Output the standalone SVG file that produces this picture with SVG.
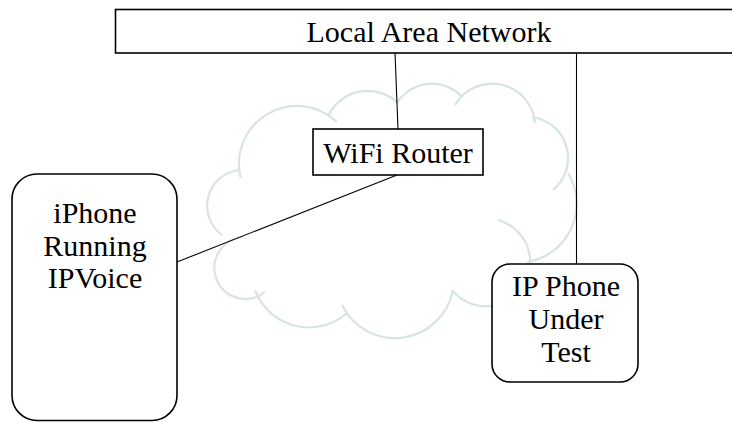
<svg xmlns="http://www.w3.org/2000/svg" width="732" height="422" viewBox="0 0 732 422">
<style>
.box{fill:#fff;stroke:#000;stroke-width:1.6}
.lbl{font-family:"Liberation Serif","Times New Roman",serif;font-size:30px;fill:#000;text-anchor:middle}
.cloud{fill:none;stroke:#d8e4e4;stroke-width:2.2}
.conn{stroke:#000;stroke-width:1.1;fill:none}
</style>
<rect width="732" height="422" fill="#fff"/>
<g id="cloud">
<path class="cloud" d="M240.7,178 A58,58 0 0 1 337,122"/>
<path class="cloud" d="M328,116 A44,44 0 0 1 398,103"/>
<path class="cloud" d="M397,103 A41,41 0 0 1 462,97"/>
<path class="cloud" d="M455,105 A43,43 0 0 1 535,123"/>
<path class="cloud" d="M532,117 A41.4,41.4 0 0 1 553,190"/>
<path class="cloud" d="M568,173 A59,59 0 0 1 527,262"/>
<path class="cloud" d="M498,220 A44,44 0 1 1 452,290"/>
<path class="cloud" d="M453,290 A59,59 0 0 1 342,305"/>
<path class="cloud" d="M347,313 A57.5,57.5 0 0 1 255,290"/>
<path class="cloud" d="M265,292 A31,31 0 1 1 244,237"/>
<path class="cloud" d="M222,235 A36,36 0 0 1 240,170"/>
</g>
<g id="connectors">
<line class="conn" x1="395" y1="53" x2="398" y2="129"/>
<line class="conn" x1="576.5" y1="53" x2="576.5" y2="264"/>
<line class="conn" x1="397" y1="175" x2="177" y2="262"/>
</g>
<g id="lan">
<rect class="box" x="115.5" y="9.5" width="640" height="43.5"/>
<text class="lbl" x="429" y="41.5">Local Area Network</text>
</g>
<g id="wifi">
<rect class="box" x="313" y="129" width="170" height="46"/>
<text class="lbl" x="398" y="162.5">WiFi Router</text>
</g>
<g id="iphone">
<rect class="box" x="12" y="174" width="165" height="246.5" rx="25" ry="25"/>
<text class="lbl" x="95" y="223">iPhone</text>
<text class="lbl" x="95" y="255.5">Running</text>
<text class="lbl" x="95" y="288">IPVoice</text>
</g>
<g id="ipphone">
<rect class="box" x="492" y="264" width="146" height="118" rx="18" ry="18"/>
<text class="lbl" x="566" y="296">IP Phone</text>
<text class="lbl" x="566" y="329">Under</text>
<text class="lbl" x="566" y="362">Test</text>
</g>
</svg>
